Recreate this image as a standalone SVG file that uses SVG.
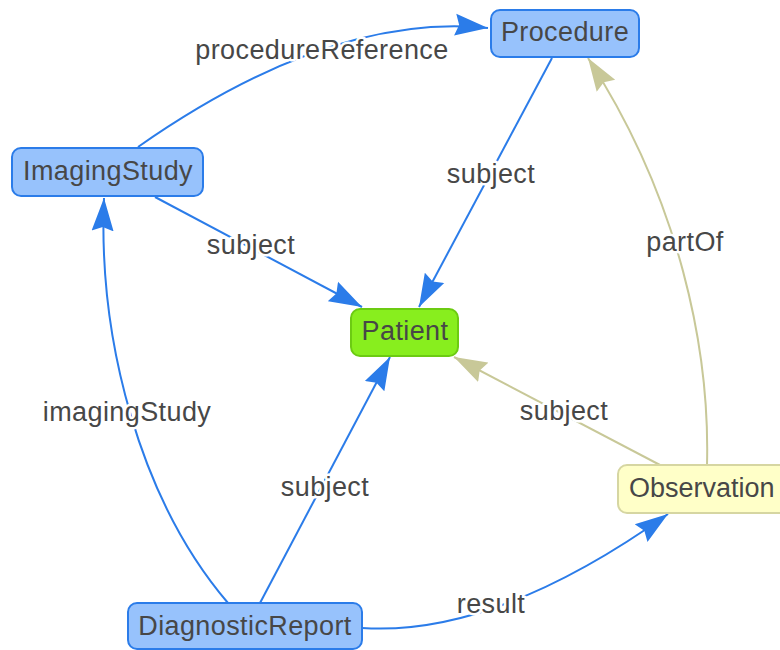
<svg xmlns="http://www.w3.org/2000/svg" width="780" height="650" viewBox="0 0 780 650">
  <defs>
    <style>
      .node-blue { fill: #97c2fc; stroke: #2b7ce9; stroke-width: 2; }
      .node-green { fill: #88ee1e; stroke: #6ccb12; stroke-width: 2; }
      .node-yellow { fill: #ffffc8; stroke: #d6d6a2; stroke-width: 2; }
      .node-text { font-family: "Liberation Sans", Arial, sans-serif; font-size: 27px; letter-spacing: 0.4px; fill: #474747; text-anchor: middle; }
      .edge { fill: none; stroke-width: 2; }
      .edge-blue { stroke: #2b7ce9; marker-end: url(#arrow-blue); }
      .edge-khaki { stroke: #c8c898; marker-end: url(#arrow-khaki); }
      .edge-label { font-family: "Liberation Sans", Arial, sans-serif; font-size: 27px; letter-spacing: 0.4px; fill: #474747; text-anchor: middle; stroke: #fff; stroke-width: 5; stroke-linejoin: round; paint-order: stroke; }
    </style>
    <marker id="arrow-blue" markerUnits="userSpaceOnUse" viewBox="0 -12 34 24" markerWidth="34" markerHeight="24" refX="33" refY="0" orient="auto">
      <path d="M0,-11 L33,0 L0,11 L4,0 z" fill="#2b7ce9"/>
    </marker>
    <marker id="arrow-khaki" markerUnits="userSpaceOnUse" viewBox="0 -12 34 24" markerWidth="34" markerHeight="24" refX="33" refY="0" orient="auto">
      <path d="M0,-11 L33,0 L0,11 L4,0 z" fill="#c8c898"/>
    </marker>
  </defs>

  <rect width="780" height="650" fill="#ffffff"/>

  <!-- connectors -->
  <g id="edges">
    <path class="edge edge-blue" d="M138,147 Q331,12 488,28"/>
    <path class="edge edge-blue" d="M552,58 L419,307"/>
    <path class="edge edge-blue" d="M155,197 L362,307"/>
    <path class="edge edge-blue" d="M228,603 C140,500 98,340 104,198"/>
    <path class="edge edge-blue" d="M260,603 L390,357"/>
    <path class="edge edge-khaki" d="M660,465 L454,357"/>
    <path class="edge edge-khaki" d="M707,465 C710,350 680,200 588,58"/>
    <path class="edge edge-blue" d="M362,628 Q495,637 668,514"/>

    <text class="edge-label" x="322" y="59">procedureReference</text>
    <text class="edge-label" x="491" y="183">subject</text>
    <text class="edge-label" x="251" y="254">subject</text>
    <text class="edge-label" x="127" y="421">imagingStudy</text>
    <text class="edge-label" x="325" y="496">subject</text>
    <text class="edge-label" x="564" y="420">subject</text>
    <text class="edge-label" x="685" y="251">partOf</text>
    <text class="edge-label" x="491" y="613">result</text>
  </g>

  <!-- nodes -->
  <g id="procedure">
    <rect class="node-blue" x="491" y="10" width="148" height="47" rx="9"/>
    <text class="node-text" x="565" y="41">Procedure</text>
  </g>
  <g id="imagingStudy">
    <rect class="node-blue" x="12" y="148" width="191" height="48" rx="9"/>
    <text class="node-text" x="108" y="180">ImagingStudy</text>
  </g>
  <g id="patient">
    <rect class="node-green" x="351" y="309" width="107" height="47" rx="9"/>
    <text class="node-text" x="405" y="340">Patient</text>
  </g>
  <g id="observation">
    <rect class="node-yellow" x="618" y="465" width="180" height="48" rx="9"/>
    <text class="node-text" x="629" y="497" style="text-anchor:start; letter-spacing:0">Observation</text>
  </g>
  <g id="diagnosticReport">
    <rect class="node-blue" x="128" y="603" width="234" height="46" rx="9"/>
    <text class="node-text" x="245" y="635">DiagnosticReport</text>
  </g>
</svg>
